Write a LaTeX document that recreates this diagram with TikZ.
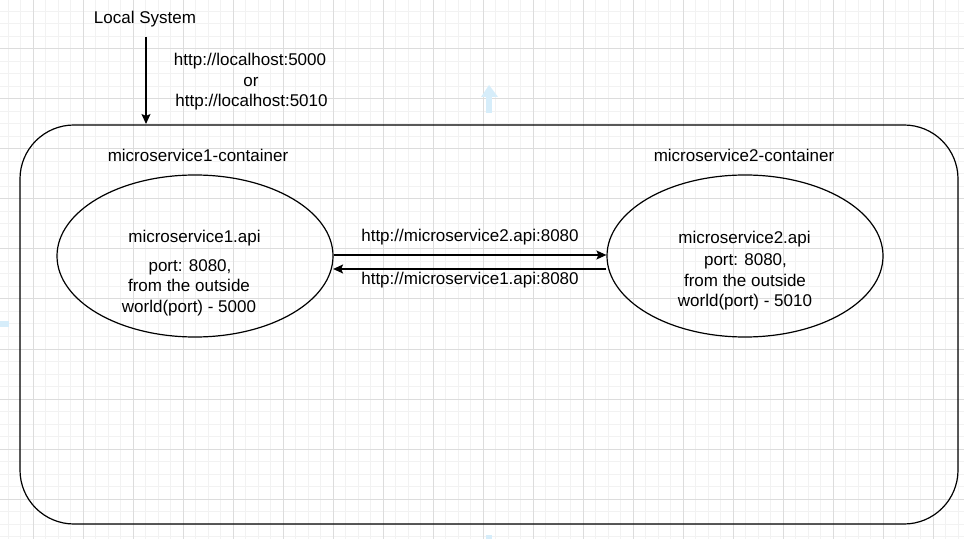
\documentclass[tikz,border=0pt]{standalone}
\usepackage{fontspec}
\setmainfont{Liberation Sans}
\usetikzlibrary{shapes.geometric,arrows.meta,calc}
\definecolor{gridminor}{HTML}{F2F2F2}
\definecolor{gridmajor}{HTML}{DCDCDC}
\definecolor{hoverblue}{HTML}{D6EDFA}
\begin{document}
\begin{tikzpicture}[x=1bp,y=-1bp,
  txt/.style={font=\fontsize{17bp}{20bp}\selectfont, text=black, inner sep=0pt, anchor=base},
  line/.style={line width=1.2bp, draw=black},
  arr/.style={line, -{Stealth[length=10bp,width=9bp,inset=2bp]}},
  svc/.style={ellipse, line, minimum width=276bp, minimum height=162bp, inner sep=0pt},
  hover/.style={fill=hoverblue, draw=none}]
\useasboundingbox (0,0) rectangle (964,539);
\fill[white] (0,0) rectangle (964,539);
% grid
\foreach \x in {8,20.5,...,964} \draw[gridminor, line width=1bp] (\x,0) -- (\x,539);
\foreach \y in {11.5,24,...,539} \draw[gridminor, line width=1bp] (0,\y) -- (964,\y);
\foreach \x in {33,83,...,933} \draw[gridmajor, line width=1bp] (\x,0) -- (\x,539);
\foreach \y in {49,99,...,499} \draw[gridmajor, line width=1bp] (0,\y) -- (964,\y);
% hover hints
\fill[hover] (486,97) rectangle (492,113);
\fill[hover] (481,97) -- (489,85) -- (498,97) -- cycle;
\fill[hover] (0,321) rectangle (9,327);
\fill[hover] (486,535) rectangle (492,539);
% container
\node[line, rounded corners=54bp, minimum width=938bp, minimum height=399bp, inner sep=0pt] (box) at (489,324.5) {};
% local system
\node[txt] (ls) at (145,24) {Local System};
\coordinate (lsstart) at (146,37);
\coordinate (lstip) at (146,124);
\draw[arr] (lsstart) -- (lstip);
\node[txt] (url1) at (250,66) {http://localhost:5000};
\node[txt] (urlor) at (251,87) {or};
\node[txt] (url2) at (251.5,107) {http://localhost:5010};
% container labels
\node[txt] (c1) at (198,162) {microservice1-container};
\node[txt] (c2) at (744,162) {microservice2-container};
% services
\node[svc] (e1) at (195,256) {};
\node[svc] (e2) at (745,256) {};
\node[txt] (e1a) at (194.5,243) {microservice1.api};
\node[txt] (e1b) at (190,272) {port: 8080,};
\node[txt] (e1c) at (189,292) {from the outside};
\node[txt] (e1d) at (189,313) {world(port) - 5000};
\node[txt] (e2a) at (744.5,244) {microservice2.api};
\node[txt] (e2b) at (745.5,266) {port: 8080,};
\node[txt] (e2c) at (745,287) {from the outside};
\node[txt] (e2d) at (745,307) {world(port) - 5010};
% connections
\draw[arr] ($(e1.east)+(0,-1)$) -- ($(e2.west)+(0,-1)$);
\draw[arr] ($(e2.west)+(0,13)$) -- ($(e1.east)+(-0.5,13)$);
\node[txt] (l12) at (470,242) {http://microservice2.api:8080};
\node[txt] (l21) at (470,285) {http://microservice1.api:8080};
\end{tikzpicture}
\end{document}
